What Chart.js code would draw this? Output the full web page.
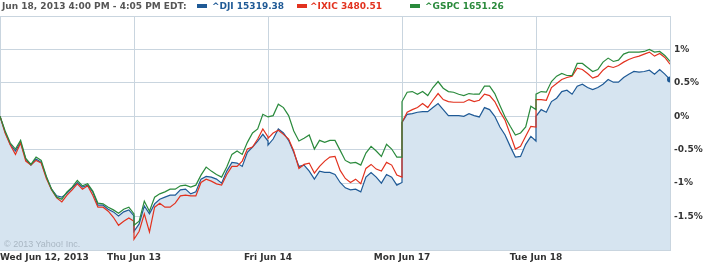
<!DOCTYPE html>
<html>
<head>
<meta charset="utf-8">
<script src="https://cdn.jsdelivr.net/npm/chart.js@4.4.1/dist/chart.umd.min.js"></script>
<style>
  body { margin: 0; background: #fff; }
  #wrap { position: relative; width: 711px; height: 265px; }
  #chart { position: absolute; left: 0; top: 0; }
  .hdr { position: absolute; top: 1px; font: bold 9px "DejaVu Sans", Verdana, sans-serif; line-height: 11px; white-space: nowrap; }
  .sw { position: absolute; top: 4px; width: 10px; height: 4px; }
  #copy { position: absolute; left: 4px; top: 239px; font: 9px "Liberation Sans", Arial, sans-serif; line-height: 10px; color: #a9b7c3; white-space: nowrap; }
</style>
</head>
<body>
<div id="wrap">
  <canvas id="chart" width="711" height="265"></canvas>
  <span class="hdr" style="left:2px;color:#555">Jun 18, 2013 4:00 PM - 4:05 PM EDT:</span>
  <span class="sw" style="left:197px;background:#1f5a96"></span>
  <span class="hdr" style="left:212px;color:#1f5a96">^DJI 15319.38</span>
  <span class="sw" style="left:297px;background:#e2321f"></span>
  <span class="hdr" style="left:310px;color:#e2321f">^IXIC 3480.51</span>
  <span class="sw" style="left:410px;background:#2a8a3c"></span>
  <span class="hdr" style="left:425px;color:#2a8a3c">^GSPC 1651.26</span>
  <span id="copy">&copy; 2013 Yahoo! Inc.</span>
</div>
<script>
// one trading day = 390 minutes, sampled every 15 min (9:30 .. 16:00)
const days = ['Wed Jun 12, 2013', 'Thu Jun 13', 'Fri Jun 14', 'Mon Jun 17', 'Tue Jun 18'];
const yTicks = [-1.5, -1, -0.5, 0, 0.5, 1];

// % change, 27 samples per day
const dji = [
  0, -0.24, -0.42, -0.52, -0.39, -0.64, -0.73, -0.64, -0.69, -0.91, -1.09, -1.19, -1.21, -1.15, -1.07, -0.99, -1.06, -1.03, -1.13, -1.33, -1.33, -1.39, -1.43, -1.49, -1.43, -1.40, -1.49,
  -1.72, -1.61, -1.34, -1.46, -1.31, -1.24, -1.21, -1.18, -1.18, -1.10, -1.09, -1.16, -1.13, -0.94, -0.90, -0.91, -0.94, -1.00, -0.82, -0.69, -0.70, -0.75, -0.54, -0.46, -0.37, -0.27, -0.37,
  -0.43, -0.34, -0.19, -0.25, -0.36, -0.54, -0.75, -0.73, -0.82, -0.94, -0.82, -0.84, -0.84, -0.87, -0.99, -1.07, -1.10, -1.09, -1.13, -0.91, -0.84, -0.91, -1.00, -0.87, -0.91, -1.03, -0.99,
  -0.09, 0.03, 0.04, 0.06, 0.07, 0.07, 0.13, 0.19, 0.10, 0.01, 0.01, 0.01, 0, 0.04, 0.01, -0.01, 0.13, 0.10, 0, -0.16, -0.28, -0.45, -0.61, -0.60, -0.42, -0.30, -0.37,
  0, 0.10, 0.06, 0.22, 0.27, 0.37, 0.39, 0.33, 0.45, 0.48, 0.43, 0.40, 0.43, 0.48, 0.55, 0.51, 0.51, 0.58, 0.63, 0.67, 0.66, 0.67, 0.69, 0.63, 0.70, 0.63, 0.55
];
const ixic = [
  0, -0.25, -0.43, -0.57, -0.40, -0.67, -0.73, -0.66, -0.70, -0.93, -1.10, -1.22, -1.28, -1.18, -1.10, -1.01, -1.09, -1.04, -1.18, -1.36, -1.36, -1.42, -1.51, -1.63, -1.57, -1.52, -1.57,
  -1.84, -1.72, -1.46, -1.73, -1.36, -1.30, -1.36, -1.36, -1.30, -1.19, -1.18, -1.19, -1.19, -0.99, -0.94, -0.97, -1.01, -1.03, -0.87, -0.75, -0.75, -0.67, -0.49, -0.46, -0.34, -0.19, -0.31,
  -0.33, -0.25, -0.21, -0.27, -0.34, -0.52, -0.78, -0.72, -0.70, -0.85, -0.75, -0.67, -0.61, -0.60, -0.81, -0.93, -0.99, -0.94, -1.01, -0.78, -0.72, -0.79, -0.82, -0.69, -0.73, -0.88, -0.91,
  -0.09, 0.06, 0.10, 0.13, 0.19, 0.13, 0.24, 0.34, 0.25, 0.22, 0.21, 0.21, 0.21, 0.25, 0.22, 0.24, 0.33, 0.31, 0.22, 0.07, -0.06, -0.27, -0.49, -0.45, -0.30, -0.15, -0.16,
  0.25, 0.25, 0.24, 0.43, 0.49, 0.55, 0.58, 0.60, 0.72, 0.70, 0.64, 0.57, 0.60, 0.69, 0.75, 0.73, 0.76, 0.81, 0.85, 0.88, 0.90, 0.93, 0.96, 0.90, 0.94, 0.88, 0.78
];
const gspc = [
  0, -0.22, -0.40, -0.49, -0.36, -0.63, -0.72, -0.61, -0.66, -0.90, -1.09, -1.21, -1.24, -1.13, -1.06, -0.96, -1.04, -1.01, -1.12, -1.30, -1.31, -1.36, -1.40, -1.45, -1.39, -1.36, -1.46,
  -1.63, -1.57, -1.27, -1.42, -1.21, -1.16, -1.13, -1.09, -1.09, -1.04, -1.03, -1.06, -1.03, -0.88, -0.76, -0.82, -0.87, -0.91, -0.76, -0.57, -0.52, -0.57, -0.39, -0.25, -0.19, 0.03, -0.01,
  -0.01, 0.01, 0.18, 0.13, 0.01, -0.22, -0.37, -0.33, -0.28, -0.49, -0.36, -0.39, -0.36, -0.36, -0.51, -0.66, -0.70, -0.69, -0.73, -0.55, -0.45, -0.52, -0.60, -0.42, -0.49, -0.61, -0.61,
  0.22, 0.36, 0.37, 0.33, 0.37, 0.31, 0.43, 0.52, 0.42, 0.37, 0.36, 0.33, 0.31, 0.34, 0.33, 0.33, 0.45, 0.45, 0.34, 0.16, -0.01, -0.15, -0.28, -0.25, -0.16, 0.15, 0.10,
  0.33, 0.37, 0.36, 0.52, 0.60, 0.64, 0.61, 0.61, 0.79, 0.79, 0.73, 0.67, 0.70, 0.81, 0.87, 0.82, 0.84, 0.93, 0.96, 0.96, 0.96, 0.97, 1.00, 0.96, 0.97, 0.91, 0.82
];

const gridColor = '#c9d5df';
const font = { family: '"DejaVu Sans", Verdana, sans-serif', size: 9, weight: 'bold' };

// x = trading minutes since Wed open
function toPoints(values) {
  return values.map((v, i) => ({ x: Math.floor(i / 27) * 390 + (i % 27) * 15, y: v }));
}

new Chart(document.getElementById('chart').getContext('2d'), {
  type: 'line',
  data: {
    datasets: [{
      label: '^DJI',
      data: toPoints(dji),
      borderColor: '#1f5a96',
      backgroundColor: '#d6e4f0',
      fill: 'start',
      order: 3,
      pointRadius: ctx => ctx.dataIndex === dji.length - 1 ? 3 : 0,
      pointBackgroundColor: '#1f5a96',
      pointBorderWidth: 0
    }, {
      label: '^IXIC',
      data: toPoints(ixic),
      borderColor: '#e2321f',
      fill: false,
      order: 2
    }, {
      label: '^GSPC',
      data: toPoints(gspc),
      borderColor: '#2a8a3c',
      fill: false,
      order: 1
    }]
  },
  options: {
    responsive: false,
    animation: false,
    layout: { autoPadding: false, padding: { top: 16, left: 0, right: 0, bottom: 0 } },
    elements: {
      line: { borderWidth: 1.2, tension: 0 },
      point: { radius: 0 }
    },
    plugins: {
      legend: { display: false },
      tooltip: { enabled: false },
      filler: { drawTime: 'beforeDatasetsDraw' }
    },
    scales: {
      x: {
        type: 'linear',
        min: 0,
        max: 1950,
        afterFit: s => { s.height = 15; s.paddingLeft = 0; s.paddingRight = 0; },
        grid: { color: gridColor, drawTicks: false },
        border: { color: gridColor },
        ticks: {
          stepSize: 390,
          autoSkip: false,
          maxRotation: 0,
          align: 'inner',
          padding: 2,
          color: '#333',
          font: font,
          callback: v => days[Math.round(v / 390)] || ''
        }
      },
      y: {
        position: 'right',
        min: -2,
        max: 1.5,
        afterFit: s => { s.width = 41; s.paddingTop = 0; s.paddingBottom = 0; },
        grid: { color: gridColor, drawTicks: false },
        border: { color: gridColor },
        ticks: {
          stepSize: 0.5,
          padding: 4,
          color: '#333',
          font: font,
          callback: v => yTicks.includes(v) ? v + '%' : ''
        }
      }
    }
  }
});
</script>
</body>
</html>
